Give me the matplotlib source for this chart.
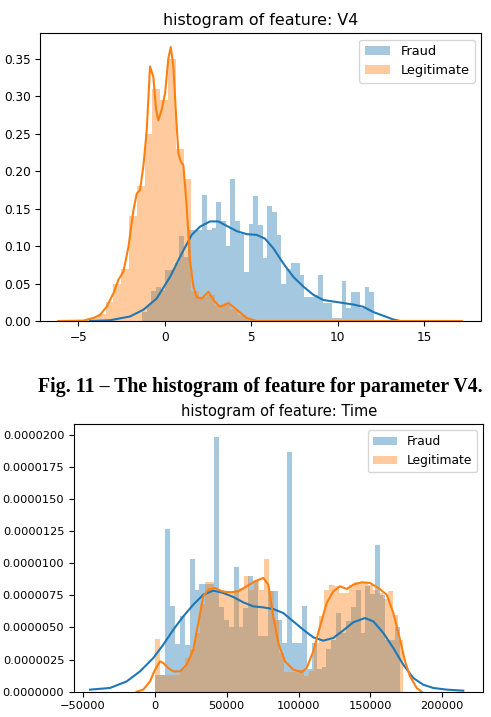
import numpy as np
import matplotlib
matplotlib.use('Agg')
import matplotlib.pyplot as plt
from matplotlib.ticker import FormatStrFormatter

# ---- feature V4 (top panel) ----
v4_fraud_range = (-1.31, 12.11)
v4_fraud_hist = [0.012, 0.021, 0.040, 0.045, 0.041, 0.068, 0.068, 0.077, 0.114, 0.086,
                 0.121, 0.121, 0.121, 0.168, 0.121, 0.124, 0.159, 0.133, 0.100, 0.190,
                 0.133, 0.116, 0.065, 0.130, 0.167, 0.128, 0.084, 0.153, 0.146, 0.115,
                 0.050, 0.070, 0.077, 0.077, 0.061, 0.032, 0.032, 0.035, 0.061, 0.024,
                 0.024, 0.004, 0.004, 0.053, 0.017, 0.039, 0.039, 0.017, 0.046, 0.039]
v4_legit_range = (-5.68, 16.88)
v4_legit_hist = [0.0, 0.0, 0.001, 0.004, 0.010, 0.026, 0.050, 0.070, 0.140, 0.180,
                 0.250, 0.310, 0.295, 0.350, 0.230, 0.190, 0.040, 0.032, 0.035, 0.022,
                 0.022, 0.016, 0.008, 0.003, 0.001, 0.0005, 0.0003, 0.0002, 0.0001, 0.0001,
                 0.0001, 0.0001, 0.0, 0.0, 0.0, 0.0, 0.0, 0.0, 0.0, 0.0,
                 0.0, 0.0, 0.0, 0.0, 0.0, 0.0, 0.0, 0.0, 0.0, 0.0]
v4_fraud_kde_x = [-4.32, -3.17, -2.01, -1.24, -0.47, 0.31, 0.98, 1.56, 2.04, 2.62,
                  3.10, 3.59, 4.17, 4.75, 5.32, 5.80, 6.29, 6.86, 7.44, 8.02,
                  8.60, 9.18, 9.76, 10.34, 10.91, 11.49, 12.07, 12.65, 13.23, 13.62]
v4_fraud_kde_y = [0.0, 0.001, 0.006, 0.015, 0.030, 0.059, 0.090, 0.115, 0.126, 0.133,
                  0.133, 0.127, 0.120, 0.116, 0.115, 0.110, 0.097, 0.077, 0.059, 0.046,
                  0.035, 0.028, 0.026, 0.024, 0.022, 0.019, 0.012, 0.007, 0.002, 0.0]
v4_legit_kde_x = [-6.16, -4.70, -4.13, -3.75, -3.36, -2.97, -2.68, -2.39, -2.10, -1.81,
                  -1.62, -1.43, -1.24, -1.04, -0.85, -0.66, -0.50, -0.37, -0.18, 0.02,
                  0.21, 0.35, 0.50, 0.66, 0.79, 0.93, 1.08, 1.27, 1.46, 1.66,
                  1.85, 2.14, 2.53, 2.82, 3.20, 3.69, 4.17, 4.75, 5.32, 10.0, 17.19]
v4_legit_kde_y = [0.0, 0.0005, 0.004, 0.008, 0.019, 0.037, 0.055, 0.066, 0.099, 0.148,
                  0.170, 0.175, 0.206, 0.255, 0.340, 0.326, 0.282, 0.268, 0.282, 0.304,
                  0.351, 0.366, 0.340, 0.273, 0.224, 0.213, 0.208, 0.153, 0.081, 0.046,
                  0.032, 0.030, 0.039, 0.028, 0.019, 0.024, 0.015, 0.004, 0.0, 0.0, 0.0]

# ---- feature Time (bottom panel), densities in units of 1e-6 ----
t_fraud_range = (406, 170348)
t_fraud_hist = [1.3, 1.3, 12.66, 6.7, 3.7, 5.9, 3.6, 10.3, 7.9, 8.4,
                8.4, 8.4, 19.8, 6.6, 5.6, 5.0, 9.7, 5.0, 6.5, 9.0,
                8.6, 4.3, 4.3, 7.8, 7.8, 5.6, 3.8, 18.65, 3.8, 3.8,
                6.7, 1.8, 3.8, 1.8, 1.9, 3.3, 4.0, 6.1, 4.6, 5.5,
                6.6, 7.9, 4.6, 8.2, 7.6, 11.4, 7.5, 4.0, 4.0, 5.0]
t_legit_range = (0, 172792)
t_legit_hist = [4.1, 1.3, 1.3, 1.3, 1.3, 1.8, 2.6, 3.3, 4.6, 6.8,
                8.5, 8.5, 7.7, 7.9, 7.8, 7.8, 7.9, 8.1, 9.0, 7.9,
                8.7, 7.9, 10.3, 7.8, 5.6, 3.0, 1.5, 1.5, 1.5, 1.7,
                1.2, 1.6, 3.8, 5.9, 7.9, 8.3, 8.2, 7.7, 7.7, 8.3,
                8.5, 8.5, 8.5, 8.3, 7.9, 7.7, 7.2, 7.8, 6.0, 4.0]
t_fraud_kde_x = [-45160, -31250, -19650, -10370, -1110, 5850, 12800, 19760, 26720, 33680,
                 40640, 47600, 54560, 61520, 68480, 75440, 82390, 89350, 96310, 103270,
                 110230, 117190, 124150, 131110, 138070, 146210, 152000, 158960, 165920, 172880,
                 179830, 186790, 193750, 203030, 214630]
t_fraud_kde_y = [0.16, 0.29, 0.80, 1.58, 2.62, 3.66, 4.82, 5.86, 6.77, 7.55,
                 7.86, 7.68, 7.37, 6.95, 6.64, 6.56, 6.43, 6.12, 5.47, 4.82,
                 4.23, 3.97, 4.18, 4.77, 5.40, 5.73, 5.47, 4.57, 3.40, 2.10,
                 1.06, 0.54, 0.29, 0.16, 0.08]
t_legit_kde_x = [-12690, -8070, -3410, 70, 3550, 5870, 9330, 12810, 17450, 22120,
                 26720, 30200, 33680, 37160, 41820, 46470, 52260, 58040, 63880, 69660,
                 75440, 78910, 82390, 85870, 90530, 96310, 102150, 105630, 110230, 114890,
                 119560, 124150, 128810, 133470, 138070, 143910, 149690, 155470, 161310, 165920,
                 170570, 174050, 177530, 182190, 185670]
t_legit_kde_y = [0.0, 0.16, 0.80, 1.71, 2.36, 2.23, 1.84, 1.58, 1.58, 2.10,
                 3.27, 5.34, 7.42, 7.94, 8.07, 7.81, 7.73, 7.81, 8.20, 8.59,
                 8.85, 8.33, 5.86, 3.79, 2.36, 1.71, 1.53, 1.84, 3.14, 5.08,
                 6.90, 7.81, 8.20, 7.99, 8.33, 8.51, 8.46, 8.07, 7.55, 6.12,
                 4.05, 2.36, 1.19, 0.29, 0.0]

labels = ['Fraud', 'Legitimate']
colors = ['#1f77b4', '#ff7f0e']


def draw_panel(ax, hists, kdes, scale):
    for (rng, h), (kx, ky), lab, c in zip(hists, kdes, labels, colors):
        edges = np.linspace(rng[0], rng[1], len(h) + 1)
        ax.bar(edges[:-1], np.array(h) * scale, width=np.diff(edges), align='edge',
               color=c, alpha=0.4, linewidth=0, label=lab)
        ax.plot(kx, np.array(ky) * scale, color=c, lw=1.5)


fig = plt.figure(figsize=(4.91, 7.17), dpi=100)

ax1 = fig.add_axes([0.0821, 0.5523, 0.8982, 0.4013])
draw_panel(ax1, [(v4_fraud_range, v4_fraud_hist), (v4_legit_range, v4_legit_hist)],
           [(v4_fraud_kde_x, v4_fraud_kde_y), (v4_legit_kde_x, v4_legit_kde_y)], 1.0)
ax1.set_xlim(-7.2, 18.32)
ax1.set_ylim(0, 0.3843)
ax1.set_xticks([-5, 0, 5, 10, 15])
ax1.set_yticks(np.arange(0, 0.36, 0.05))
ax1.yaxis.set_major_formatter(FormatStrFormatter('%.2f'))
ax1.tick_params(labelsize=8.7)
ax1.set_title('histogram of feature: V4', fontsize=11.4)
ax1.legend(loc='upper right', fontsize=9.3)

fig.text(0.5305, 0.4603, 'Fig. 11 \u2013 The histogram of feature for parameter V4.',
         ha='center', va='center', fontsize=14.3, fontweight='bold',
         family='Liberation Serif')

ax2 = fig.add_axes([0.1507, 0.0353, 0.8336, 0.3729])
draw_panel(ax2, [(t_fraud_range, t_fraud_hist), (t_legit_range, t_legit_hist)],
           [(t_fraud_kde_x, t_fraud_kde_y), (t_legit_kde_x, t_legit_kde_y)], 1e-6)
ax2.set_xlim(-56300, 228530)
ax2.set_ylim(0, 2.08e-5)
ax2.set_xticks([-50000, 0, 50000, 100000, 150000, 200000])
ax2.set_yticks(np.arange(0, 2.1e-5, 2.5e-6))
ax2.yaxis.set_major_formatter(FormatStrFormatter('%.7f'))
ax2.tick_params(labelsize=8.2)
ax2.set_title('histogram of feature: Time', fontsize=10.5)
ax2.legend(loc='upper right', fontsize=8.8)

fig.savefig('out.png', dpi=100)
